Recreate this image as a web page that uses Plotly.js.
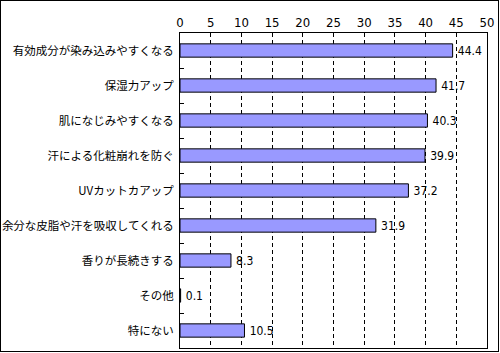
<!DOCTYPE html>
<html><head><meta charset="utf-8">
<script src="https://cdn.plot.ly/plotly-3.0.1.min.js"></script>
<style>
html,body{margin:0;padding:0;background:#fff;}
#chart{position:absolute;left:0;top:0;width:499px;height:352px;border:1px solid #000;box-sizing:border-box;}
</style></head>
<body><div id="chart"></div>
<script>
const categories = ["有効成分が染み込みやすくなる","保湿力アップ","肌になじみやすくなる","汗による化粧崩れを防ぐ","UVカットカアップ","余分な皮脂や汗を吸収してくれる","香りが長続きする","その他","特にない"];
const values = [44.4, 41.7, 40.3, 39.9, 37.2, 31.9, 8.3, 0.1, 10.5];
const valueLabels = ["44.4","41.7","40.3","39.9","37.2","31.9","8.3","0.1","10.5"];
const font = "'Noto Sans CJK JP', 'Noto Sans', sans-serif";
const numFont = "'Liberation Sans Narrow', 'DejaVu Sans Condensed', 'Noto Sans', sans-serif";
Plotly.newPlot('chart', [{
  type: 'bar', orientation: 'h',
  x: values, y: categories,
  text: valueLabels, texttemplate: '\u2009%{text}', textposition: 'outside', cliponaxis: false, constraintext: 'none',
  textfont: {family: numFont, size: 12, color: '#000'},
  marker: {color: '#9999FF', line: {color: '#000', width: 1}},
  hoverinfo: 'none'
}], {
  width: 497, height: 350,
  margin: {l: 179, r: 11, t: 32, b: 3},
  paper_bgcolor: '#fff', plot_bgcolor: '#fff',
  bargap: 0.62,
  showlegend: false,
  font: {family: font, size: 11, color: '#000'},
  xaxis: {
    side: 'top', range: [0, 50], dtick: 5, tick0: 0,
    showgrid: true, gridcolor: '#000', gridwidth: 1, griddash: '4px,3px',
    zeroline: false, showline: true, linecolor: '#000', linewidth: 1, mirror: true,
    ticks: '', tickfont: {family: numFont, size: 13, color: '#000'}
  },
  yaxis: {
    autorange: 'reversed', type: 'category',
    showline: true, linecolor: '#000', linewidth: 1, mirror: true,
    ticks: 'inside', tickson: 'boundaries', ticklen: 4, tickcolor: '#000', tickwidth: 1,
    showgrid: false, zeroline: false, ticklabelstandoff: 3,
    tickfont: {family: font, size: 11.5, color: '#000'}
  }
}, {staticPlot: true});
</script></body></html>
